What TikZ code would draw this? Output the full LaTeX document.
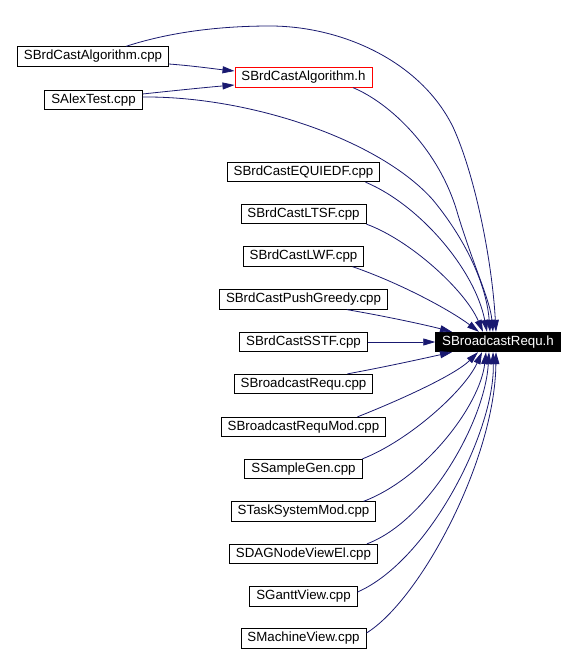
\documentclass[tikz,border=0pt]{standalone}
\usepackage{fontspec}
\setmainfont{Liberation Sans}
\usetikzlibrary{arrows.meta}
\definecolor{edgeblue}{HTML}{191970}
\begin{document}
\begin{tikzpicture}[x=1pt,y=-1pt,
  filebox/.style={draw=black,line width=0.8pt,fill=white,inner xsep=6.5pt,inner ysep=0pt,
    minimum height=19.5pt,font=\fontsize{13.3}{16}\selectfont},
  hbox/.style={filebox,draw=red},
  rootbox/.style={filebox,fill=black,text=white},
  dep/.style={draw=edgeblue,line width=0.8pt,-{Triangle[length=12pt,width=7pt]}}]
\fill[white] (0,0) rectangle (574,656);
\useasboundingbox (0,0) rectangle (574,656);

\node[filebox] (algcpp) at (93,56.5) {SBrdCastAlgorithm.cpp};
\node[hbox] (algh) at (303.5,77.5) {SBrdCastAlgorithm.h};
\node[filebox] (alex) at (93.5,100) {SAlexTest.cpp};
\node[rootbox] (sbr) at (498,342) {SBroadcastRequ.h};

\node[filebox] (equi) at (303.5,172) {SBrdCastEQUIEDF.cpp};
\node[filebox] (ltsf) at (303.5,214) {SBrdCastLTSF.cpp};
\node[filebox] (lwf) at (303.5,256.5) {SBrdCastLWF.cpp};
\node[filebox] (push) at (303.5,299.5) {SBrdCastPushGreedy.cpp};
\node[filebox] (sstf) at (303.5,342) {SBrdCastSSTF.cpp};
\node[filebox] (brcpp) at (303.5,384) {SBroadcastRequ.cpp};
\node[filebox] (mod) at (303.5,427) {SBroadcastRequMod.cpp};
\node[filebox] (sample) at (303.5,469) {SSampleGen.cpp};
\node[filebox] (task) at (303.5,511.5) {STaskSystemMod.cpp};
\node[filebox] (dag) at (303.5,554) {SDAGNodeViewEl.cpp};
\node[filebox] (gantt) at (303.5,596.5) {SGanttView.cpp};
\node[filebox] (machine) at (303.5,638.5) {SMachineView.cpp};

% into SBrdCastAlgorithm.h
\draw[dep] ([yshift=-7.5pt]algcpp.east) .. controls (195,66) and (215,69) .. ([yshift=6.5pt]algh.west);
\draw[dep] ([yshift=6pt]alex.east) .. controls (180,90) and (210,87) .. ([yshift=-7.5pt]algh.west);

% upper group into SBroadcastRequ.h
\draw[dep] ([xshift=33pt]algcpp.north) .. controls (170,32) and (220,26) .. (270,26)
  .. controls (340,26) and (420,60) .. (453,127)
  .. controls (475,175) and (492,260) .. ([xshift=-2pt]sbr.north);
\draw[dep] ([xshift=49.5pt]algh.south) .. controls (390,103) and (440,150) .. (458,215)
  .. controls (475,270) and (490,300) .. ([xshift=-5pt]sbr.north);
\draw[dep] ([yshift=3pt]alex.east) .. controls (250,96) and (380,140) .. (433,200)
  .. controls (470,245) and (487,290) .. ([xshift=-8pt]sbr.north);
\draw[dep] ([xshift=62pt]equi.south) .. controls (420,205) and (475,270) .. ([xshift=-11pt]sbr.north);
\draw[dep] (ltsf.south east) .. controls (410,240) and (465,290) .. ([xshift=-15pt]sbr.north);
\draw[dep] ([xshift=49pt]lwf.south) .. controls (400,283) and (450,310) .. ([xshift=-19pt]sbr.north);
\draw[dep] ([xshift=43.5pt]push.south) .. controls (390,317) and (430,326) .. ([xshift=-46pt]sbr.north);
\draw[dep] (sstf) -- (sbr);

% lower group
\draw[dep] ([xshift=44pt]brcpp.north) .. controls (390,366) and (430,357) .. ([xshift=-46pt]sbr.south);
\draw[dep] ([xshift=54pt]mod.north) .. controls (400,400) and (455,375) .. ([xshift=-20pt]sbr.south);
\draw[dep] (sample.north east) .. controls (410,440) and (465,390) .. ([xshift=-16pt]sbr.south);
\draw[dep] ([xshift=60pt]task.north) .. controls (425,478) and (480,405) .. ([xshift=-12pt]sbr.south);
\draw[dep] ([xshift=63.5pt]dag.north) .. controls (430,520) and (485,420) .. ([xshift=-9pt]sbr.south);
\draw[dep] ([yshift=4.5pt]gantt.east) .. controls (430,560) and (495,430) .. ([xshift=-5pt]sbr.south);
\draw[dep] ([yshift=5.5pt]machine.east) .. controls (420,600) and (495,460) .. ([xshift=-2pt]sbr.south);
\end{tikzpicture}
\end{document}
